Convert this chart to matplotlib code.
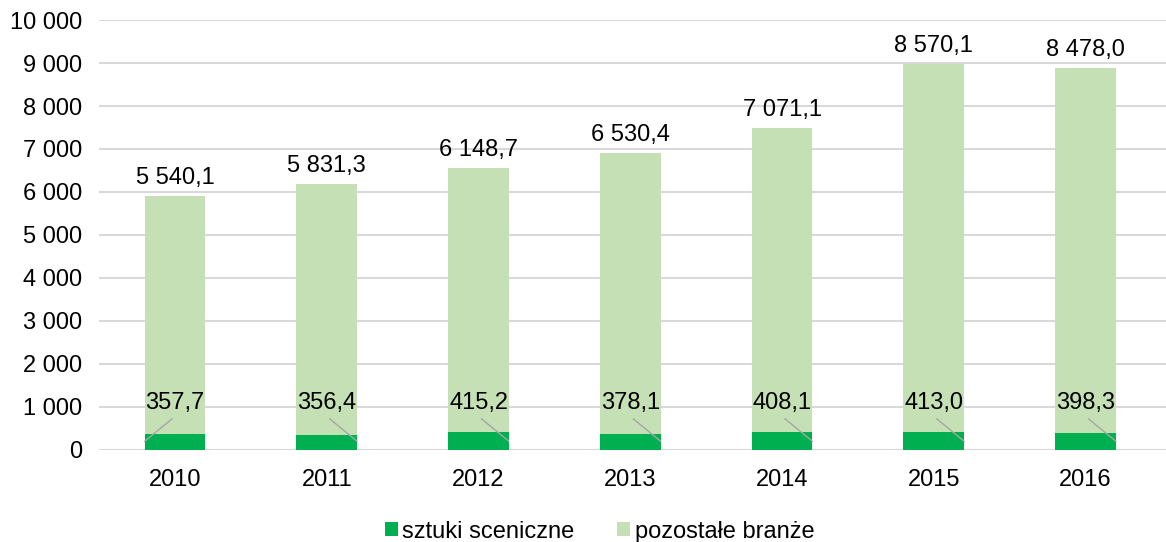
import matplotlib
matplotlib.use("Agg")
import matplotlib.pyplot as plt
from matplotlib.ticker import FuncFormatter
import numpy as np

years = ["2010", "2011", "2012", "2013", "2014", "2015", "2016"]
sztuki = [357.7, 356.4, 415.2, 378.1, 408.1, 413.0, 398.3]
pozostale = [5540.1, 5831.3, 6148.7, 6530.4, 7071.1, 8570.1, 8478.0]

# which way the leader line of the small label goes (-1 left, +1 right)
leader_side = [-1, 1, 1, 1, 1, 1, 1]

DARK = "#00B050"
LIGHT = "#C5E0B4"
FS = 17


def fmt(v, dec=1):
    s = "{:,.{d}f}".format(v, d=dec)
    return s.replace(",", " ").replace(".", ",")


plt.rcParams["font.family"] = ["Liberation Sans", "DejaVu Sans"]

fig = plt.figure(figsize=(11.66, 5.42), dpi=100)
ax = fig.add_axes([0.085, 0.17, 0.915, 0.793])

x = np.arange(len(years))
w = 0.4
ax.bar(x, sztuki, w, color=DARK, label="sztuki sceniczne", zorder=3)
ax.bar(x, pozostale, w, bottom=sztuki, color=LIGHT, label="pozostałe branże", zorder=3)

for i in range(len(years)):
    total = sztuki[i] + pozostale[i]
    ax.annotate(fmt(pozostale[i]), (x[i], total), xytext=(0, 5), textcoords="offset points",
                ha="center", va="bottom", fontsize=FS, zorder=5)
    ax.text(x[i], 1100, fmt(sztuki[i]), ha="center", va="center", fontsize=FS, zorder=5)
    ax.plot([x[i] + 0.02 * leader_side[i], x[i] + w / 2 * leader_side[i]], [720, 200],
            color="#A6A6A6", lw=1.0, zorder=4)

ax.set_ylim(0, 10000)
ax.set_xlim(-0.5, 6.53)
ax.set_yticks(np.arange(0, 10001, 1000))
ax.yaxis.set_major_formatter(FuncFormatter(lambda v, p: fmt(v, 0)))
ax.set_xticks(x)
ax.set_xticklabels(years)
ax.tick_params(axis="both", length=0, labelsize=FS)
ax.tick_params(axis="x", pad=14)
ax.tick_params(axis="y", pad=12)
ax.grid(axis="y", color="#D9D9D9", lw=1.5, zorder=0)
for s in ax.spines.values():
    s.set_visible(False)

ax.legend(loc="upper center", bbox_to_anchor=(0.469, -0.115), ncol=2, frameon=False,
          fontsize=FS, handlelength=0.55, handleheight=0.55, handletextpad=0.2,
          columnspacing=1.8)

fig.savefig("out.png", dpi=100)
